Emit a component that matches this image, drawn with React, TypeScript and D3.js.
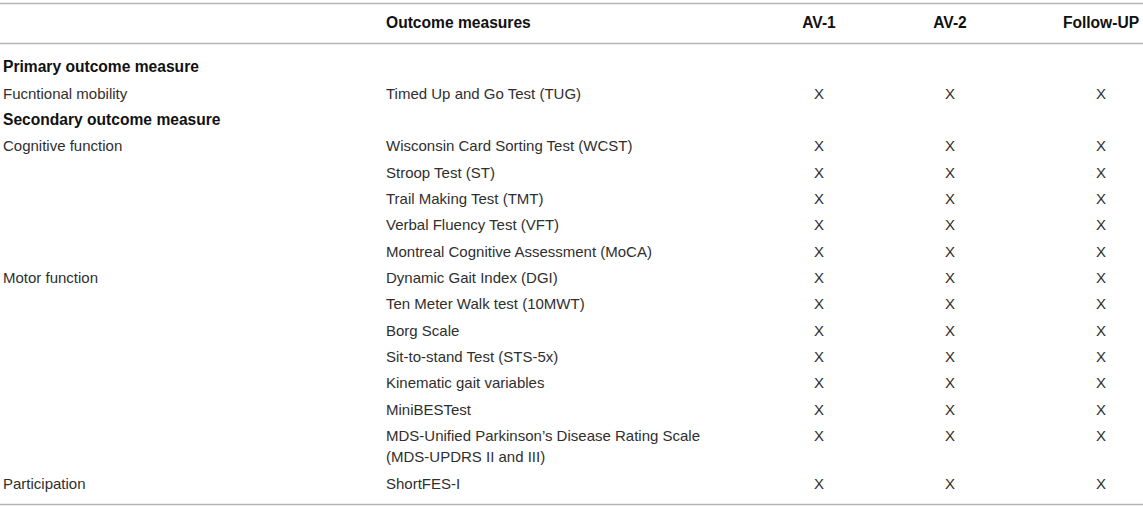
import React, { useEffect, useRef } from "react";
import * as d3 from "d3";

// Table data
const headers = ["", "Outcome measures", "AV-1", "AV-2", "Follow-UP"];
const domains = [
  "",
  "Fucntional mobility",
  "",
  "Cognitive function",
  "",
  "",
  "",
  "",
  "Motor function",
  "",
  "",
  "",
  "",
  "",
  "",
  "Participation",
];
const sections = ["Primary outcome measure", "", "Secondary outcome measure"];
const measures = [
  [""],
  ["Timed Up and Go Test (TUG)"],
  [""],
  ["Wisconsin Card Sorting Test (WCST)"],
  ["Stroop Test (ST)"],
  ["Trail Making Test (TMT)"],
  ["Verbal Fluency Test (VFT)"],
  ["Montreal Cognitive Assessment (MoCA)"],
  ["Dynamic Gait Index (DGI)"],
  ["Ten Meter Walk test (10MWT)"],
  ["Borg Scale"],
  ["Sit-to-stand Test (STS-5x)"],
  ["Kinematic gait variables"],
  ["MiniBESTest"],
  ["MDS-Unified Parkinson’s Disease Rating Scale", "(MDS-UPDRS II and III)"],
  ["ShortFES-I"],
];
const av1 = [0, 1, 0, 1, 1, 1, 1, 1, 1, 1, 1, 1, 1, 1, 1, 1];
const av2 = [0, 1, 0, 1, 1, 1, 1, 1, 1, 1, 1, 1, 1, 1, 1, 1];
const followUp = [0, 1, 0, 1, 1, 1, 1, 1, 1, 1, 1, 1, 1, 1, 1, 1];

const W = 1143;
const H = 508;

const OutcomeTable = () => {
  const ref = useRef(null);

  useEffect(() => {
    document.body.style.margin = "0";
    const svg = d3.select(ref.current);
    svg.selectAll("*").remove();

    const font = "'Liberation Sans', Arial, Helvetica, sans-serif";
    const fs = 15;
    const fsBold = 15.6;

    // row offsets: each row = 1 unit, extra lines add partial units
    const starts = [];
    let acc = 0;
    measures.forEach((m) => {
      starts.push(acc);
      acc += 1 + (m.length - 1) * 0.815;
    });
    const y = d3.scaleLinear().domain([0, 1]).range([67, 93.35]);
    const lineGap = 21;

    const x = d3
      .scaleOrdinal()
      .domain(headers.map((_, i) => i))
      .range([3, 386, 819, 950, 1101]);

    // rules
    const rule = (yy) =>
      svg
        .append("line")
        .attr("x1", 0)
        .attr("x2", W)
        .attr("y1", yy)
        .attr("y2", yy)
        .attr("stroke", "#b5b5b5")
        .attr("stroke-width", 1.6);
    rule(3.5);
    rule(43.5);
    rule(504.5);

    // header
    svg
      .append("g")
      .selectAll("text")
      .data(headers)
      .enter()
      .append("text")
      .attr("x", (d, i) => x(i))
      .attr("y", 23)
      .attr("dy", "0.35em")
      .attr("text-anchor", (d, i) => (i >= 2 ? "middle" : "start"))
      .attr("font-family", font)
      .attr("font-size", fsBold)
      .attr("font-weight", "bold")
      .attr("fill", "#111")
      .text((d) => d);

    // section titles
    svg
      .append("g")
      .selectAll("text")
      .data(sections)
      .enter()
      .append("text")
      .attr("x", x(0))
      .attr("y", (d, i) => y(starts[i]))
      .attr("dy", "0.35em")
      .attr("font-family", font)
      .attr("font-size", fsBold)
      .attr("font-weight", "bold")
      .attr("fill", "#111")
      .text((d) => d);

    const body = svg
      .append("g")
      .attr("font-family", font)
      .attr("font-size", fs)
      .attr("fill", "#2f2f2f");

    body
      .selectAll("text.dom")
      .data(domains)
      .enter()
      .append("text")
      .attr("class", "dom")
      .attr("x", x(0))
      .attr("y", (d, i) => y(starts[i]))
      .attr("dy", "0.35em")
      .text((d) => d);

    measures.forEach((m, i) => {
      m.forEach((line, j) => {
        body
          .append("text")
          .attr("x", x(1))
          .attr("y", y(starts[i]) + j * lineGap)
          .attr("dy", "0.35em")
          .text(line);
      });
    });

    [av1, av2, followUp].forEach((col, c) => {
      const rows = col
        .map((v, i) => ({ v, i }))
        .filter((d) => d.v === 1);
      body
        .append("g")
        .selectAll("text")
        .data(rows)
        .enter()
        .append("text")
        .attr("x", x(c + 2))
        .attr("y", (d) => y(starts[d.i]))
        .attr("dy", "0.35em")
        .attr("text-anchor", "middle")
        .text("X");
    });
  }, []);

  return <svg ref={ref} width={W} height={H} style={{ display: "block" }} />;
};

export default function App() {
  return <OutcomeTable />;
}
